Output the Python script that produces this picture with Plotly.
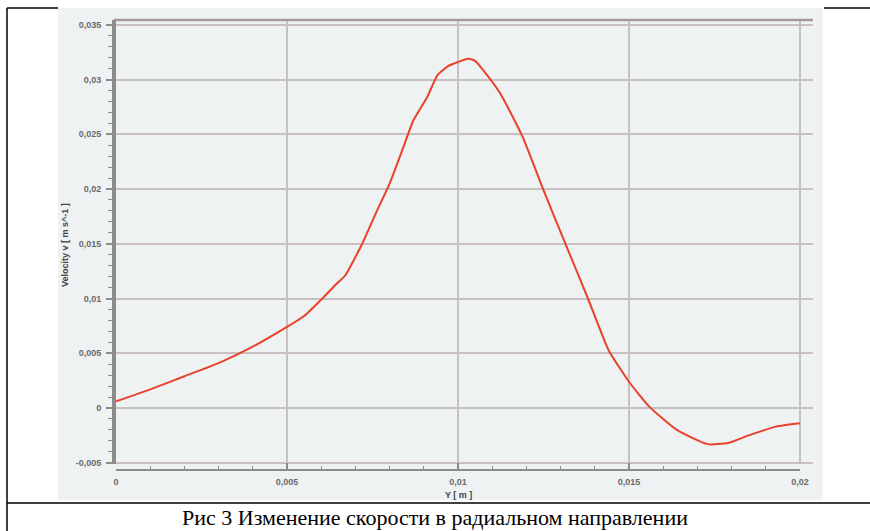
import plotly.graph_objects as go

# ---- data ----
y_pos = [0.0, 0.001, 0.002, 0.003, 0.004, 0.005, 0.0055, 0.006, 0.0065, 0.0067,
         0.0072, 0.0076, 0.008, 0.0084, 0.0087, 0.0091, 0.0094, 0.0097, 0.0100,
         0.0103, 0.0105, 0.0107, 0.0112, 0.0115, 0.0119, 0.0125, 0.0131, 0.0138,
         0.0144, 0.0150, 0.0156, 0.0164, 0.0173, 0.0179, 0.0185, 0.0193, 0.0200]
velocity = [0.0006, 0.0017, 0.0029, 0.0041, 0.0056, 0.0074, 0.0084, 0.0099, 0.0115, 0.0121,
            0.0150, 0.0178, 0.0205, 0.0238, 0.0263, 0.0284, 0.0304, 0.0312, 0.0316,
            0.0319, 0.0317, 0.0310, 0.0289, 0.0272, 0.0247, 0.0199, 0.0153, 0.0100,
            0.0053, 0.0024, 0.0001, -0.0020, -0.0033, -0.0032, -0.0025, -0.0017, -0.0014]

x_tickvals = [0, 0.005, 0.01, 0.015, 0.02]
x_ticktext = ["0", "0,005", "0,01", "0,015", "0,02"]
y_tickvals = [-0.005, 0, 0.005, 0.01, 0.015, 0.02, 0.025, 0.03, 0.035]
y_ticktext = ["-0,005", "0", "0,005", "0,01", "0,015", "0,02", "0,025", "0,03", "0,035"]

x_title = "Y [ m ]"
y_title = "Velocity v [ m s^-1 ]"
caption = "Рис 3 Изменение скорости в радиальном направлении"

W, H = 870, 531
def px_x(p): return p / W
def px_y(p): return (H - p) / H

grid_col = "#c8bfbf"
axis_col = "#8c8c8c"
tick_font = dict(family="Liberation Sans", size=9, color="#6a6a6a", weight="bold")

fig = go.Figure()
fig.add_trace(go.Scatter(x=y_pos, y=velocity, mode="lines", xaxis="x", yaxis="y",
                         line=dict(color="#e8412c", width=2, shape="spline", smoothing=0.5),
                         showlegend=False, hoverinfo="skip"))
# separate thin subplot that carries the detached x axis below the plot
fig.add_trace(go.Scatter(x=[None], y=[None], xaxis="x2", yaxis="y2",
                         showlegend=False, hoverinfo="skip"))

fig.update_layout(
    width=W, height=H, margin=dict(l=0, r=0, t=0, b=0, autoexpand=False),
    paper_bgcolor="white", plot_bgcolor="white",
    xaxis=dict(domain=[px_x(116), px_x(813)], range=[0, 0.02038], anchor="y",
               tickvals=x_tickvals, showticklabels=False, ticks="",
               showgrid=True, gridcolor=grid_col, gridwidth=1.5,
               zeroline=False, showline=False, automargin=False),
    yaxis=dict(domain=[px_y(464), px_y(20)], range=[-0.005114, 0.035434], anchor="x",
               tickvals=y_tickvals, ticktext=y_ticktext,
               ticks="outside", ticklen=6, tickwidth=1.5, tickcolor=axis_col,
               minor=dict(ticks="outside", ticklen=4, tickwidth=1, tickcolor=axis_col,
                          dtick=0.001, tick0=0, showgrid=False),
               showline=True, linecolor=axis_col, linewidth=4,
               showgrid=True, gridcolor=grid_col, gridwidth=1.5,
               zeroline=False, tickfont=tick_font, automargin=False,
               ticklabelstandoff=3),
    xaxis2=dict(domain=[px_x(116), px_x(800)], range=[0, 0.02], anchor="y2",
                tickvals=x_tickvals, ticktext=x_ticktext,
                ticks="inside", ticklen=6, tickwidth=1.5, tickcolor=axis_col,
                minor=dict(ticks="inside", ticklen=3, tickwidth=1, tickcolor=axis_col,
                           dtick=0.001, tick0=0, showgrid=False),
                showline=True, linecolor=axis_col, linewidth=2,
                showgrid=False, zeroline=False, automargin=False,
                tickfont=tick_font, ticklabelstandoff=3),
    yaxis2=dict(domain=[px_y(469), px_y(467)], anchor="x2", visible=False,
                range=[0, 1], showgrid=False, zeroline=False, automargin=False),
    shapes=[
        # light grey chart background panel
        dict(type="rect", xref="paper", yref="paper", x0=px_x(58), x1=px_x(823),
             y0=px_y(500), y1=px_y(8), fillcolor="#eff2f2", line=dict(width=0),
             layer="below"),
        # top border of plot area
        dict(type="line", xref="paper", yref="paper", x0=px_x(114), x1=px_x(813),
             y0=px_y(20), y1=px_y(20), line=dict(color="#a39a9a", width=2.5)),
        # outer table frame
        dict(type="line", xref="paper", yref="paper", x0=px_x(7), x1=px_x(7),
             y0=0, y1=px_y(8), line=dict(color="black", width=1.5)),
        dict(type="line", xref="paper", yref="paper", x0=px_x(7), x1=px_x(58),
             y0=px_y(8), y1=px_y(8), line=dict(color="black", width=1.5)),
        dict(type="line", xref="paper", yref="paper", x0=px_x(824), x1=1,
             y0=px_y(8), y1=px_y(8), line=dict(color="black", width=1.5)),
        dict(type="line", xref="paper", yref="paper", x0=px_x(7), x1=1,
             y0=px_y(503), y1=px_y(503), line=dict(color="black", width=1.5)),
    ],
    annotations=[
        dict(text="<b>" + y_title + "</b>", xref="paper", yref="paper",
             x=px_x(65), y=px_y(245), textangle=-90, showarrow=False,
             font=dict(family="Liberation Sans", size=9, color="#444444"),
             xanchor="center", yanchor="middle"),
        dict(text="<b>" + x_title + "</b>", xref="paper", yref="paper",
             x=px_x(458), y=px_y(495), showarrow=False,
             font=dict(family="Liberation Sans", size=9, color="#444444"),
             xanchor="center", yanchor="middle"),
        dict(text=caption, xref="paper", yref="paper",
             x=px_x(435), y=px_y(517), showarrow=False,
             font=dict(family="Liberation Serif", size=22, color="black"),
             xanchor="center", yanchor="middle"),
    ],
)

fig.write_html("out.html")
